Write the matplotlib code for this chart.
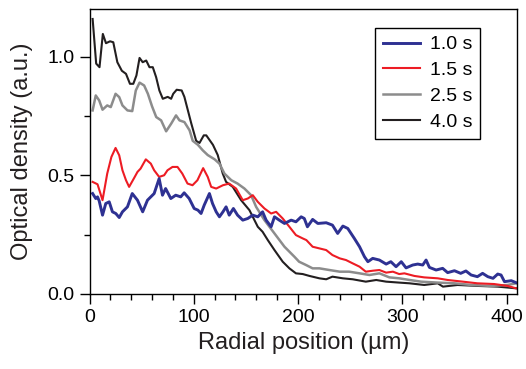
import matplotlib
matplotlib.use("Agg")
import matplotlib.pyplot as plt
from matplotlib.ticker import MultipleLocator

plt.rcParams['font.family'] = ['Liberation Sans', 'DejaVu Sans']

labels = ["1.0 s", "1.5 s", "2.5 s", "4.0 s"]
colors = ["#2E3192", "#ED1C24", "#8C8C8C", "#231F20"]

x_10 = [3, 6, 7.7, 9.3, 12.5, 15.6, 18.9, 22, 25.2, 28.5, 31.6, 36.4, 41, 46, 51, 55.6, 58.8, 62, 66.8,
        70, 73, 78, 82.7, 87.5, 90.8, 95.6, 100.4, 104, 107, 110, 115, 118, 121.5, 124.6, 128, 131, 134,
        138, 142, 147, 151.8, 156.6, 161.4, 166, 169.4, 174.2, 177.4, 182, 187, 193.4, 198, 203, 206, 209,
        214, 219, 227, 233, 238, 243, 247.7, 254, 259, 263.7, 267, 271.6, 278, 284.5, 289, 294, 299, 303.6,
        310, 314.8, 319.6, 322.8, 326, 332.4, 338.7, 343.5, 350, 356, 361, 366, 372, 377, 382, 387, 391.5,
        394.7, 398, 404.5, 409]
y_10 = [0.423, 0.402, 0.409, 0.392, 0.332, 0.381, 0.388, 0.346, 0.339, 0.322, 0.346, 0.367, 0.423, 0.395,
        0.346, 0.395, 0.409, 0.423, 0.486, 0.416, 0.444, 0.402, 0.416, 0.409, 0.426, 0.402, 0.36, 0.353,
        0.339, 0.374, 0.423, 0.381, 0.346, 0.325, 0.346, 0.367, 0.332, 0.36, 0.332, 0.311, 0.318, 0.332,
        0.325, 0.346, 0.311, 0.283, 0.325, 0.311, 0.297, 0.311, 0.304, 0.325, 0.318, 0.283, 0.314, 0.297,
        0.3, 0.29, 0.255, 0.286, 0.276, 0.234, 0.199, 0.157, 0.136, 0.15, 0.143, 0.126, 0.136, 0.115, 0.136,
        0.11, 0.122, 0.126, 0.122, 0.143, 0.112, 0.101, 0.108, 0.09, 0.098, 0.087, 0.097, 0.08, 0.073, 0.087,
        0.073, 0.066, 0.084, 0.08, 0.052, 0.056, 0.048]

x_15 = [3, 7.7, 12.5, 17, 21, 25, 28.5, 31.6, 35, 38, 43, 46, 49, 54, 58.8, 62, 66.8, 71.6, 74.8, 79.6,
        84.4, 89, 94, 98.8, 103.5, 109, 113.4, 116.7, 121.5, 128, 134, 140.6, 147, 151.8, 156.6, 161.4,
        167.8, 174.2, 179, 185.3, 191.7, 198, 204.5, 208, 214, 220.5, 227, 233, 240, 246, 252.4, 259, 265,
        271.6, 278, 284.5, 291, 297, 302, 311.6, 321, 334, 343.5, 358, 372, 388, 401, 409]
y_15 = [0.472, 0.462, 0.395, 0.507, 0.577, 0.615, 0.584, 0.521, 0.479, 0.451, 0.49, 0.514, 0.528, 0.567,
        0.549, 0.521, 0.493, 0.5, 0.521, 0.535, 0.535, 0.507, 0.465, 0.458, 0.479, 0.53, 0.493, 0.451,
        0.444, 0.458, 0.465, 0.444, 0.395, 0.402, 0.416, 0.388, 0.36, 0.339, 0.346, 0.318, 0.283, 0.248,
        0.234, 0.227, 0.199, 0.192, 0.185, 0.164, 0.15, 0.143, 0.129, 0.115, 0.094, 0.098, 0.101, 0.09,
        0.094, 0.084, 0.087, 0.076, 0.07, 0.066, 0.059, 0.052, 0.045, 0.042, 0.034, 0.024]

x_25 = [3, 6, 9.3, 12.5, 17, 20.4, 25, 28.5, 31.6, 36.4, 41, 44.4, 48, 52.4, 56, 60, 64, 68.7, 73.5, 78.3,
        83, 86.3, 91, 96, 99, 104, 108.6, 113.4, 120, 124.6, 129.4, 136, 142, 148.6, 155, 159.8, 167.8,
        177.4, 187, 196.5, 201, 207.7, 214, 220.5, 230, 240, 249, 259, 268.5, 278, 287.6, 297, 307, 318,
        334, 350, 366, 385, 401, 409]
y_25 = [0.773, 0.836, 0.815, 0.776, 0.794, 0.787, 0.843, 0.829, 0.794, 0.773, 0.77, 0.857, 0.89, 0.878,
        0.843, 0.79, 0.745, 0.731, 0.685, 0.717, 0.752, 0.731, 0.724, 0.689, 0.645, 0.628, 0.605, 0.585,
        0.567, 0.549, 0.507, 0.479, 0.465, 0.444, 0.416, 0.367, 0.311, 0.255, 0.199, 0.157, 0.136, 0.122,
        0.108, 0.108, 0.101, 0.094, 0.094, 0.087, 0.080, 0.087, 0.07, 0.066, 0.059, 0.052, 0.048, 0.045,
        0.038, 0.034, 0.038, 0.045]

x_40 = [3, 6.4, 9.6, 12.8, 15.8, 19.7, 22.8, 26.7, 31, 35, 38.8, 42, 45, 48, 51, 54.4, 57.5, 60.7, 63.9,
        67, 70.3, 75, 78.3, 80.3, 83.6, 88.4, 91, 97.5, 102.3, 105.5, 109.6, 112, 118.4, 123, 127.8, 131,
        137.4, 145.4, 153.4, 161.4, 166, 171, 177.4, 185.3, 191.7, 198, 204.5, 211, 220.5, 227, 233, 243,
        252.4, 265, 275, 284.5, 297, 307, 321, 334, 339, 353, 372, 391.5, 409]
y_40 = [1.158, 0.97, 0.955, 1.095, 1.056, 1.064, 1.06, 0.976, 0.94, 0.927, 0.885, 0.885, 0.92, 0.994, 0.976,
        0.983, 0.955, 0.955, 0.913, 0.857, 0.822, 0.83, 0.822, 0.843, 0.86, 0.857, 0.83, 0.72, 0.645, 0.636,
        0.668, 0.668, 0.628, 0.585, 0.507, 0.472, 0.451, 0.395, 0.353, 0.283, 0.262, 0.227, 0.185, 0.136,
        0.108, 0.087, 0.084, 0.076, 0.066, 0.062, 0.073, 0.066, 0.062, 0.052, 0.059, 0.052, 0.048, 0.045,
        0.038, 0.045, 0.031, 0.038, 0.034, 0.031, 0.024]

x_ticks = [0, 100, 200, 300, 400]
y_ticks = [0.0, 0.5, 1.0]
y_tick_labels = ["0.0", "0.5", "1.0"]

fig = plt.figure(figsize=(5.26, 3.69), dpi=100)
ax = fig.add_axes([89.5 / 526, 75 / 369, (517 - 89.5) / 526, (294 - 9) / 369])

l40, = ax.plot(x_40, y_40, color=colors[3], lw=1.5, label=labels[3])
l25, = ax.plot(x_25, y_25, color=colors[2], lw=1.8, label=labels[2])
l15, = ax.plot(x_15, y_15, color=colors[1], lw=1.5, label=labels[1])
l10, = ax.plot(x_10, y_10, color=colors[0], lw=2.1, label=labels[0])

ax.set_xlim(0, 410)
ax.set_ylim(0, 1.2)
ax.set_xticks(x_ticks)
ax.set_yticks(y_ticks)
ax.set_yticklabels(y_tick_labels)
ax.xaxis.set_minor_locator(MultipleLocator(20))
ax.yaxis.set_minor_locator(MultipleLocator(0.25))
ax.tick_params(which='major', direction='out', length=7, width=1, labelsize=14, color='black', pad=4)
ax.tick_params(which='minor', direction='out', length=4, width=1, color='black')
for s in ax.spines.values():
    s.set_linewidth(1.0)
    s.set_color('black')

ax.set_xlabel("Radial position (µm)", fontsize=17, labelpad=4, color='#231F20')
ax.set_ylabel("Optical density (a.u.)", fontsize=17, labelpad=10, color='#231F20')

leg = ax.legend(handles=[l10, l15, l25, l40], loc='upper right', bbox_to_anchor=(0.913, 0.933),
                borderaxespad=0, fontsize=14, frameon=True, fancybox=False, handlelength=1.9,
                handletextpad=0.5, labelspacing=0.42, borderpad=0.4)
leg.get_frame().set_edgecolor('black')
leg.get_frame().set_linewidth(1.0)
leg.get_frame().set_alpha(1)

fig.savefig("out.png", dpi=100)
